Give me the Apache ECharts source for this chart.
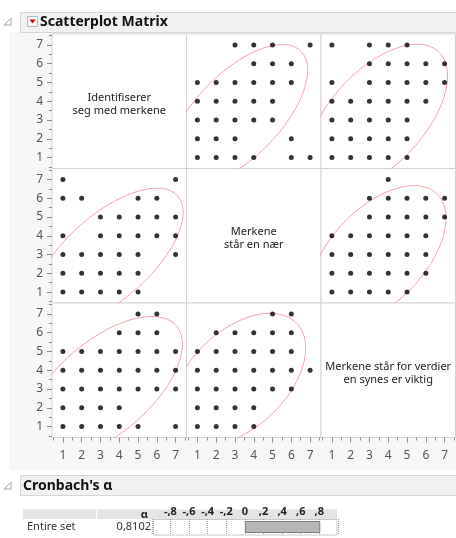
<!DOCTYPE html>
<html>
<head>
<meta charset="utf-8">
<script src="https://cdn.jsdelivr.net/npm/echarts@6/dist/echarts.min.js"></script>
<style>
  html, body { margin: 0; padding: 0; background: #ffffff; }
  #chart { width: 456px; height: 538px; }
</style>
</head>
<body>
<div id="chart"></div>
<script>
// ---- data ----
const variableLabels = [
  'Identifiserer\nseg med merkene',
  'Merkene\nstår en nær',
  'Merkene står for verdier\nen synes er viktig'
];
const tickValues = [1, 2, 3, 4, 5, 6, 7];
const minorTickValues = [0.5, 1.5, 2.5, 3.5, 4.5, 5.5, 6.5, 7.5];

// distinct response combinations, [A, B]
const pairsAB = [
  [1,7],[7,7],
  [1,6],[2,6],[5,6],[6,6],
  [3,5],[4,5],[5,5],[6,5],[7,5],
  [1,4],[3,4],[4,4],[5,4],[6,4],[7,4],
  [1,3],[2,3],[3,3],[4,3],[5,3],[7,3],
  [1,2],[2,2],[3,2],[4,2],[5,2],
  [1,1],[2,1],[3,1],[4,1],[5,1]
];
// [A, C]
const pairsAC = [
  [5,7],[6,7],
  [4,6],[5,6],[6,6],
  [1,5],[2,5],[3,5],[4,5],[5,5],[6,5],[7,5],
  [1,4],[2,4],[3,4],[4,4],[5,4],[6,4],[7,4],
  [1,3],[2,3],[3,3],[4,3],[5,3],[6,3],[7,3],
  [1,2],[2,2],[3,2],[4,2],
  [1,1],[2,1],[3,1],[4,1],[5,1],[7,1]
];
// [B, C]
const pairsBC = [
  [5,7],[6,7],
  [2,6],[3,6],[4,6],[5,6],[6,6],
  [1,5],[2,5],[3,5],[4,5],[5,5],[6,5],
  [1,4],[2,4],[3,4],[4,4],[5,4],[6,4],[7,4],
  [1,3],[2,3],[3,3],[4,3],[5,3],[6,3],
  [1,2],[2,2],[3,2],[4,2],
  [1,1],[2,1],[3,1],[4,1]
];

// 95% density ellipse per off-diagonal cell:
// [row, col, mean x, mean y, sd x, sd y, correlation]
const densityEllipses = [
  [0, 1, 3.15, 3.25, 1.52, 1.54, 0.64],
  [1, 0, 3.41, 2.86, 1.63, 1.50, 0.65],
  [0, 2, 3.41, 3.12, 1.53, 1.60, 0.57],
  [2, 0, 3.18, 3.07, 1.71, 1.55, 0.61],
  [1, 2, 3.45, 2.97, 1.48, 1.51, 0.53],
  [2, 1, 3.19, 3.53, 1.46, 1.43, 0.47]
];

const cronbachAlpha = 0.8102;

// ---- helpers ----
const K95 = Math.sqrt(5.991); // chi-square(2) 95% radius

function ellipseCurve(mx, my, sx, sy, r) {
  const pts = [];
  for (let t = 0; t <= 360; t += 3) {
    const a = t * Math.PI / 180;
    pts.push([
      mx + K95 * sx * Math.cos(a),
      my + K95 * sy * (r * Math.cos(a) + Math.sqrt(1 - r * r) * Math.sin(a))
    ]);
  }
  return pts;
}

// points for the cell whose x is variable xv and y is variable yv
function pairsFor(xv, yv) {
  const key = [xv, yv].sort().join('');
  const src = key === '01' ? pairsAB : key === '02' ? pairsAC : pairsBC;
  const swap = xv > yv;
  return src.map(p => swap ? [p[1], p[0]] : p);
}

// ---- layout ----
const cellLeft = [52, 186.5, 321];
const cellTop = [34, 168.5, 303];
const cellW = 134.5, cellH = 134.5;
const axMin = 0.42, axMax = 7.58;
const labelFont = '"Noto Sans", "DejaVu Sans", sans-serif';
const tickColor = '#8a8a8a';

const grids = [], xAxes = [], yAxes = [], series = [];
for (let i = 0; i < 3; i++) {
  for (let j = 0; j < 3; j++) {
    const g = i * 3 + j;
    grids.push({ left: cellLeft[j], top: cellTop[i], width: cellW, height: cellH,
      show: true, backgroundColor: '#ffffff', borderColor: '#d4d4d4', borderWidth: 1 });
    const showX = i === 2, showY = j === 0;
    // major + minor axes for each direction
    xAxes.push({ gridIndex: g, type: 'value', min: axMin, max: axMax, position: 'bottom',
      axisLine: { show: false }, splitLine: { show: false },
      axisTick: { show: showX, customValues: tickValues, length: 5, lineStyle: { color: tickColor } },
      axisLabel: { show: showX, customValues: tickValues, margin: 12, fontSize: 12, color: '#555', fontFamily: labelFont } });
    xAxes.push({ gridIndex: g, type: 'value', min: axMin, max: axMax, position: 'bottom',
      axisLine: { show: false }, splitLine: { show: false },
      axisTick: { show: showX, customValues: minorTickValues, length: 3, lineStyle: { color: tickColor } },
      axisLabel: { show: false } });
    yAxes.push({ gridIndex: g, type: 'value', min: axMin, max: axMax, position: 'left',
      axisLine: { show: false }, splitLine: { show: false },
      axisTick: { show: showY, customValues: tickValues, length: 5, lineStyle: { color: tickColor } },
      axisLabel: { show: showY, customValues: tickValues, margin: 9, fontSize: 12, color: '#555', fontFamily: labelFont } });
    yAxes.push({ gridIndex: g, type: 'value', min: axMin, max: axMax, position: 'left',
      axisLine: { show: false }, splitLine: { show: false },
      axisTick: { show: showY, customValues: minorTickValues, length: 3, lineStyle: { color: tickColor } },
      axisLabel: { show: false } });
    if (i !== j) {
      const e = densityEllipses.find(d => d[0] === i && d[1] === j);
      series.push({ type: 'line', xAxisIndex: 2 * g, yAxisIndex: 2 * g,
        data: ellipseCurve(e[2], e[3], e[4], e[5], e[6]), showSymbol: false,
        clip: true, silent: true, lineStyle: { color: '#f4a2a9', width: 1 }, z: 2 });
      series.push({ type: 'scatter', xAxisIndex: 2 * g, yAxisIndex: 2 * g,
        data: pairsFor(j, i), symbolSize: 5, itemStyle: { color: '#000' }, z: 3 });
    }
  }
}

// Cronbach's alpha bar
const gA = grids.length;
grids.push({ left: 151.75, top: 519, width: 186.2, height: 16, show: false });
xAxes.push({ gridIndex: gA, type: 'value', min: -1, max: 1, interval: 0.2, position: 'top',
  axisLine: { show: false }, axisTick: { show: false },
  splitLine: { show: true, lineStyle: { type: 'dotted', color: '#9a9a9a', width: 1 } },
  axisLabel: { margin: 2, fontSize: 11, fontWeight: 'bold', color: '#222', fontFamily: labelFont,
    formatter: v => {
      if (Math.abs(v) > 0.99) return '';
      const s = (Math.round(v * 10) / 10).toFixed(1);
      if (s === '0.0' || s === '-0.0') return '0';
      return s.replace('0.', ',');
    } } });
yAxes.push({ gridIndex: gA, type: 'category', data: ['Entire set'], show: false });
series.push({ type: 'bar', xAxisIndex: xAxes.length - 1, yAxisIndex: yAxes.length - 1,
  data: [cronbachAlpha], barWidth: 12,
  itemStyle: { color: '#b6b6b6', borderColor: '#7d7d7d', borderWidth: 1 } });

// ---- report furniture ----
const diagFont = '11px ' + labelFont;
const diagText = k => ({ type: 'text', x: cellLeft[k] + cellW / 2, y: cellTop[k] + cellH / 2 + 3,
  style: { text: variableLabels[k], font: diagFont, fill: '#222', textAlign: 'center', textVerticalAlign: 'middle', lineHeight: 13 } });

const graphics = [
  { type: 'rect', shape: { x: 9, y: 32, width: 447, height: 438 }, style: { fill: '#f7f7f7' }, z: -100 },
  { type: 'rect', shape: { x: 20.5, y: 12.5, width: 440, height: 20 }, style: { fill: '#f1f1f1', stroke: '#d6d6d6' }, z: -90 },
  { type: 'polygon', shape: { points: [[4, 25], [11, 18], [11, 25]] }, style: { fill: '#ffffff', stroke: '#a8a8a8' } },
  { type: 'rect', shape: { x: 27.5, y: 16.5, width: 10, height: 10 }, style: { fill: '#f8f8f8', stroke: '#b8b8b8' } },
  { type: 'polygon', shape: { points: [[29.5, 19.5], [35.5, 19.5], [32.5, 23.5]] }, style: { fill: '#d40000' } },
  { type: 'text', x: 40, y: 22.5, style: { text: 'Scatterplot Matrix', font: 'bold 14px ' + labelFont, fill: '#111', textVerticalAlign: 'middle' } },
  diagText(0), diagText(1), diagText(2),
  { type: 'rect', shape: { x: 20.5, y: 475.5, width: 440, height: 20 }, style: { fill: '#f1f1f1', stroke: '#d6d6d6' }, z: -90 },
  { type: 'polygon', shape: { points: [[4, 489], [11, 482], [11, 489]] }, style: { fill: '#ffffff', stroke: '#a8a8a8' } },
  { type: 'text', x: 23, y: 486, style: { text: "Cronbach's α", font: 'bold 14px ' + labelFont, fill: '#111', textVerticalAlign: 'middle' } },
  { type: 'rect', shape: { x: 23, y: 509.5, width: 314, height: 9.5 }, style: { fill: '#e4e4e4' }, z: -80 },
  { type: 'line', shape: { x1: 96.5, y1: 509.5, x2: 96.5, y2: 535 }, style: { stroke: '#ffffff' }, z: -70 },
  { type: 'text', x: 148, y: 514.5, style: { text: 'α', font: 'bold 11px ' + labelFont, fill: '#222', textAlign: 'right', textVerticalAlign: 'middle' } },
  { type: 'text', x: 27, y: 527, style: { text: 'Entire set', font: '11px ' + labelFont, fill: '#333', textVerticalAlign: 'middle' } },
  { type: 'text', x: 151, y: 527, style: { text: cronbachAlpha.toFixed(4).replace('.', ','), font: '11px ' + labelFont, fill: '#333', textAlign: 'right', textVerticalAlign: 'middle' } },
  { type: 'rect', shape: { x: 153.5, y: 519.5, width: 183.5, height: 15.5 }, style: { fill: 'none', stroke: '#c8c8c8' } }
];

const chart = echarts.init(document.getElementById('chart'), null, { renderer: 'canvas' });
chart.setOption({
  animation: false,
  grid: grids,
  xAxis: xAxes,
  yAxis: yAxes,
  series: series,
  graphic: graphics
});
</script>
</body>
</html>
